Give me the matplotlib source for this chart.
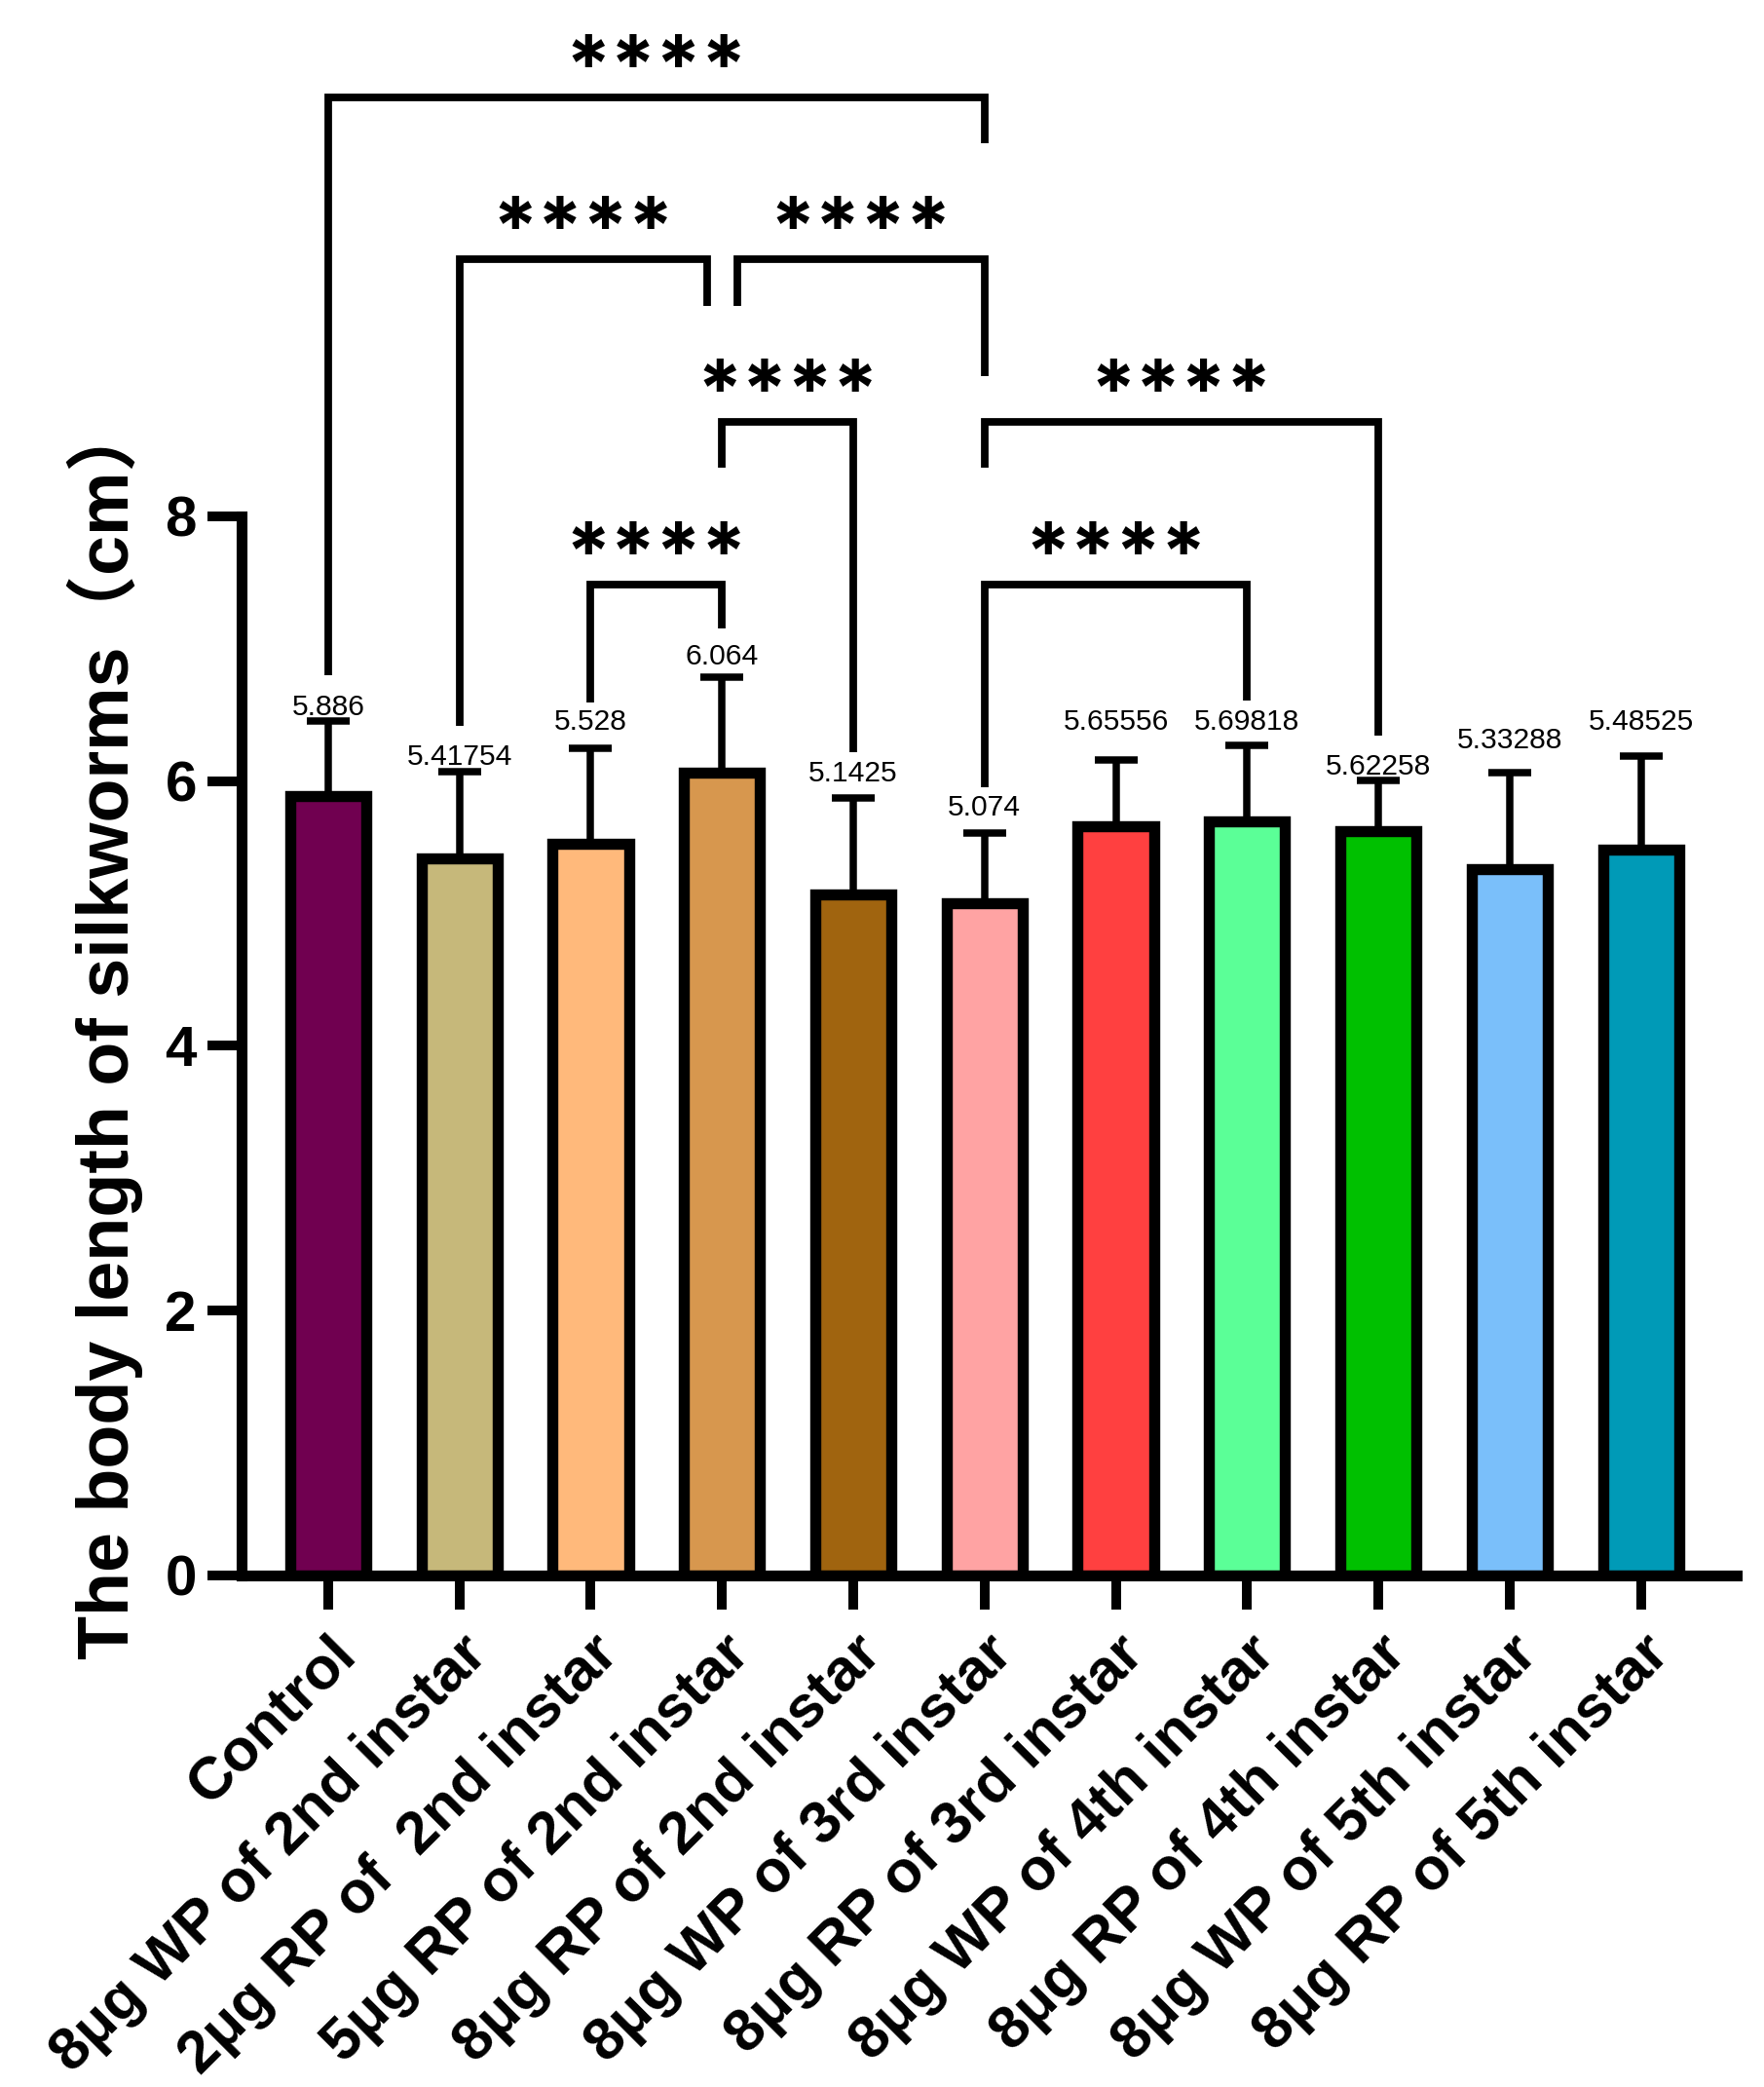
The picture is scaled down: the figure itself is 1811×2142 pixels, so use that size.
import matplotlib
matplotlib.use("Agg")
import matplotlib.pyplot as plt
import numpy as np

plt.rcParams["font.family"] = ["Liberation Sans", "Noto Sans CJK SC", "DejaVu Sans"]

# data
groups = [
    "Control",
    "8μg WP of 2nd instar",
    "2μg RP of  2nd instar",
    "5μg RP of 2nd instar",
    "8μg RP of 2nd instar",
    "8μg WP of 3rd instar",
    "8μg RP of 3rd instar",
    "8μg WP of 4th instar",
    "8μg RP of 4th instar",
    "8μg WP of 5th instar",
    "8μg RP of 5th instar",
]
means = [5.886, 5.41754, 5.528, 6.064, 5.1425, 5.074, 5.65556, 5.69818, 5.62258, 5.33288, 5.48525]
sds = [0.57, 0.65, 0.72, 0.72, 0.73, 0.53, 0.50, 0.57, 0.38, 0.73, 0.70]
colors = ["#700050", "#C6B87A", "#FFB97B", "#D7974E", "#A0640F", "#FFA3A3",
          "#FF4040", "#5BFF97", "#00C000", "#7ABFFA", "#009AB7"]

# significance comparisons (group index pairs) and their labels
comparisons = [(0, 5), (1, 3), (3, 5), (3, 4), (2, 3), (5, 8), (5, 7)]
sig_labels = ["****"] * len(comparisons)

# layout of the brackets (data units)
bracket_y = [11.16, 9.94, 9.94, 8.71, 7.48, 8.71, 7.48]
leg_bottoms = [(6.80, 10.82), (6.42, 9.59), (9.59, 9.06), (8.37, 6.22),
               (6.59, 7.15), (8.37, 6.34), (5.95, 6.61)]
end_shift = [(0, 0), (0, -0.11), (0.12, 0), (0, 0), (0, 0), (0, 0), (0, 0)]
# baseline of the value labels (data units)
label_y = [6.50, 6.12, 6.39, 6.88, 6.00, 5.74, 6.39, 6.39, 6.05, 6.25, 6.39]

W, H, DPI = 1811, 2142, 200
fig = plt.figure(figsize=(W / DPI, H / DPI), dpi=DPI)
ax = fig.add_axes([248 / W, 1 - 1617 / H, (1783 - 248) / W, 1617 / H])

x = np.arange(len(groups))
ax.errorbar(x, means, yerr=[np.zeros(len(x)), sds], fmt="none", ecolor="black",
            elinewidth=2.7, capsize=7.9, capthick=2.7, zorder=1)
ax.bar(x, means, width=0.58, color=colors, edgecolor="black", linewidth=4.1, zorder=2)

for xi, m, ly in zip(x, means, label_y):
    ax.text(xi, ly, f"{m:g}", ha="center", va="baseline", fontsize=10.8, zorder=4)

for (a, b), lab, y, (la, lb), (sa, sb) in zip(comparisons, sig_labels, bracket_y, leg_bottoms, end_shift):
    xa, xb = a + sa, b + sb
    ax.plot([xa, xa, xb, xb], [la, y, y, lb], color="black", linewidth=2.8,
            solid_joinstyle="miter", solid_capstyle="butt", clip_on=False, zorder=3)
    ax.text((xa + xb) / 2, y + 0.03, lab, ha="center", va="baseline",
            fontsize=30, fontweight="bold", family="Inter", clip_on=False)

ax.set_xlim(-0.66, 10.73)
ax.set_ylim(0, 1617 / 135.9)
ax.set_yticks([0, 2, 4, 6, 8])
ax.set_xticks(x)
ax.set_xticklabels(groups, rotation=45, ha="right", va="top", rotation_mode="anchor",
                   fontsize=22, fontweight="bold")
for lab in ax.get_yticklabels():
    lab.set_fontsize(21)
    lab.set_fontweight("bold")
ax.tick_params(axis="both", width=3.6, length=12.6, color="black")
ax.tick_params(axis="y", pad=4)
ax.tick_params(axis="x", pad=6)

for side in ["top", "right"]:
    ax.spines[side].set_visible(False)
for side in ["left", "bottom"]:
    ax.spines[side].set_linewidth(4)
ax.spines["left"].set_bounds(0, 8)

ax.set_ylabel("The body length of silkworms（cm）", fontsize=26.5, fontweight="bold")
ax.yaxis.set_label_coords((147 - 248) / (1783 - 248), (1617 - 1056) / 1617)

fig.savefig("out.png", dpi=DPI)
